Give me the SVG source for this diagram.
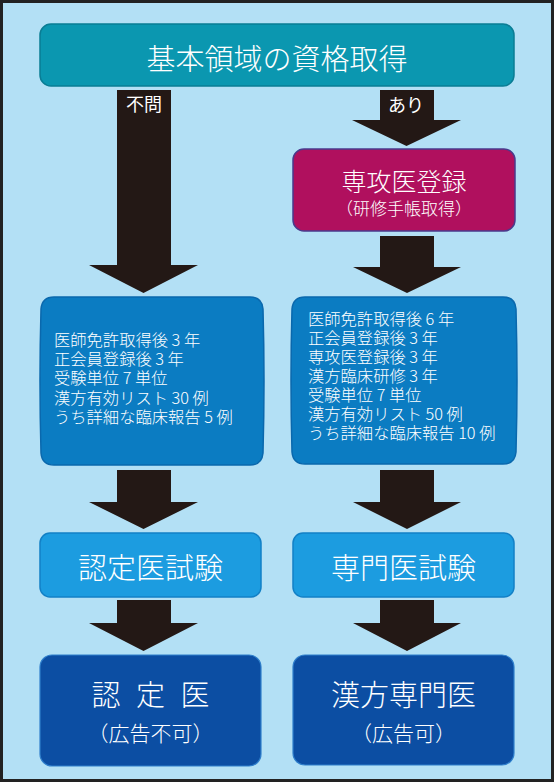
<svg xmlns="http://www.w3.org/2000/svg" width="554" height="782" viewBox="0 0 554 782">
  <style>
    text { font-family: "Noto Sans CJK JP", "Noto Sans", "Liberation Sans", sans-serif; fill: #ffffff; font-weight: 300; }
    .mid { text-anchor: middle; }
    .arrow { fill: #231815; }
    .top { fill: #0b97b0; stroke: #0a7d94; stroke-width: 1.5; }
    .mag { fill: #b0105e; stroke: #4a3a8c; stroke-width: 1.5; }
    .cond { fill: #0b7cc2; stroke: #0a68ad; stroke-width: 1.5; }
    .exam { fill: #1c9ce0; stroke: #1280c6; stroke-width: 1.5; }
    .final { fill: #0c4ea3; stroke: #2f7fcc; stroke-width: 1.2; }
    .cond-text { font-size: 16.3px; }
    .lbl { font-size: 18px; font-weight: 400; }
  </style>
  <rect x="0" y="0" width="554" height="782" fill="#b3e0f5"/>
  <rect x="1.5" y="1.5" width="551" height="779" fill="none" stroke="#222222" stroke-width="3"/>

  <g id="connectors">
    <polygon class="arrow" points="117,90 171,90 171,265 198,265 143.5,293 89,265 117,265"/>
    <text class="mid lbl" x="144" y="111">不問</text>
    <polygon class="arrow" points="380,90 434,90 434,120 461,120 406.5,146 352,120 380,120"/>
    <text class="mid lbl" x="406" y="112">あり</text>
    <polygon class="arrow" points="380,236 434,236 434,267 461,267 407,293 353,267 380,267"/>
    <polygon class="arrow" points="117,470 171,470 171,502 198,502 143.5,529 89,502 117,502"/>
    <polygon class="arrow" points="380,470 434,470 434,502 461,502 407,529 353,502 380,502"/>
    <polygon class="arrow" points="117,600 171,600 171,623 198,623 143.5,651 89,623 117,623"/>
    <polygon class="arrow" points="380,600 434,600 434,623 461,623 407,651 353,623 380,623"/>
  </g>

  <g id="node-kihon">
    <rect class="top" x="40" y="24" width="474" height="62" rx="11"/>
    <text class="mid" x="277" y="70" font-size="29">基本領域の資格取得</text>
  </g>

  <g id="node-senkoui">
    <rect class="mag" x="293" y="149" width="222" height="82" rx="11"/>
    <text class="mid" x="404" y="191" font-size="25">専攻医登録</text>
    <text class="mid" x="404" y="215" font-size="17">（研修手帳取得）</text>
  </g>

  <g id="node-cond-left">
    <path class="cond" d="M54,297 H250 Q262,297 263,309 Q265,381 263,453 Q262,465 250,465 H54 Q42,465 41,453 Q39,381 41,309 Q42,297 54,297 Z"/>
    <text class="cond-text" y="346">
      <tspan x="54" y="346">医師免許取得後 3 年</tspan>
      <tspan x="54" y="365.2">正会員登録後 3 年</tspan>
      <tspan x="54" y="384.4">受験単位 7 単位</tspan>
      <tspan x="54" y="403.6">漢方有効リスト 30 例</tspan>
      <tspan x="54" y="422.8">うち詳細な臨床報告 5 例</tspan>
    </text>
  </g>

  <g id="node-cond-right">
    <path class="cond" d="M305,297 H503 Q515,297 516,309 Q518,381 516,452 Q515,464 503,464 H305 Q293,464 292,452 Q290,381 292,309 Q293,297 305,297 Z"/>
    <text class="cond-text" y="325">
      <tspan x="308" y="325">医師免許取得後 6 年</tspan>
      <tspan x="308" y="344">正会員登録後 3 年</tspan>
      <tspan x="308" y="363">専攻医登録後 3 年</tspan>
      <tspan x="308" y="382">漢方臨床研修 3 年</tspan>
      <tspan x="308" y="401">受験単位 7 単位</tspan>
      <tspan x="308" y="420">漢方有効リスト 50 例</tspan>
      <tspan x="308" y="439">うち詳細な臨床報告 10 例</tspan>
    </text>
  </g>

  <g id="node-exam-left">
    <rect class="exam" x="40" y="533" width="221" height="64" rx="10"/>
    <text class="mid" x="150.5" y="579" font-size="29">認定医試験</text>
  </g>

  <g id="node-exam-right">
    <rect class="exam" x="293" y="533" width="221" height="64" rx="10"/>
    <text class="mid" x="403.5" y="579" font-size="29">専門医試験</text>
  </g>

  <g id="node-final-left">
    <rect class="final" x="40" y="655" width="221" height="111" rx="12"/>
    <text class="mid" x="106 128 150.5 173 195" y="706" font-size="29">認 定 医</text>
    <text class="mid" x="150.5" y="741" font-size="21">（広告不可）</text>
  </g>

  <g id="node-final-right">
    <rect class="final" x="293" y="655" width="221" height="110" rx="12"/>
    <text class="mid" x="403.5" y="706" font-size="29">漢方専門医</text>
    <text class="mid" x="403.5" y="741" font-size="21">（広告可）</text>
  </g>
</svg>
